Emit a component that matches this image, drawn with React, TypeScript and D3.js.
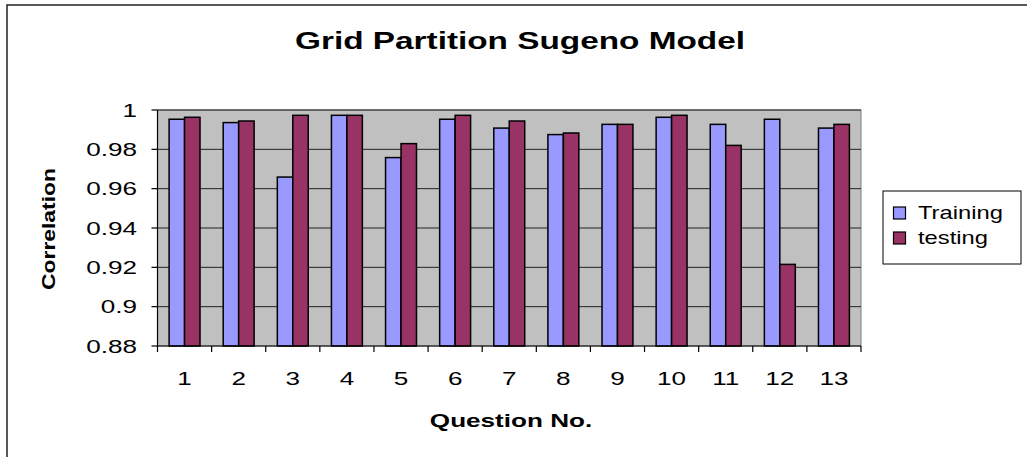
import React from 'react';
import {scaleBand, scaleLinear} from 'd3';

const questions = ['1', '2', '3', '4', '5', '6', '7', '8', '9', '10', '11', '12', '13'];
const training = [0.9953, 0.9936, 0.9659, 0.9973, 0.9758, 0.9953, 0.9908, 0.9875, 0.9927, 0.9963, 0.9927, 0.9953, 0.9908];
const testing = [0.9963, 0.9944, 0.9973, 0.9973, 0.9829, 0.9973, 0.9944, 0.9883, 0.9927, 0.9973, 0.9820, 0.9215, 0.9927];
const yTicks = [0.88, 0.9, 0.92, 0.94, 0.96, 0.98, 1];
const seriesNames = ['Training', 'testing'];
const seriesColors = ['#9999FF', '#993366'];

const FONT = 'Arial, "Liberation Sans", sans-serif';
const SX = 1.45;

const plot = {left: 157.5, right: 861, top: 110, bottom: 346};

// stretched text, the picture is wider than the original chart
const SText = ({x, y, size, sx = SX, bold = false, anchor = 'middle', rotate = 0, children}: any) => (
    <g transform={`translate(${x},${y}) rotate(${rotate}) scale(${sx},1)`}>
        <text fontFamily={FONT} fontSize={size} fontWeight={bold ? 'bold' : 'normal'} textAnchor={anchor}>{children}</text>
    </g>
);

const App = () => {
    const x = scaleBand<string>().domain(questions).range([plot.left, plot.right]);
    const y = scaleLinear().domain([0.88, 1]).range([plot.bottom, plot.top]);
    const band = x.bandwidth();
    const bw = band / 3.5;

    return (
        <svg width={1027} height={457} style={{position: 'absolute', left: 0, top: 0, background: '#fff'}}>
            {/* outer chart frame, cut by the picture on right and bottom */}
            <rect x={7} y={5} width={1040} height={470} fill="#fff" stroke="#222" strokeWidth={1.5}/>

            <SText x={520} y={49} size={23} bold>Grid Partition Sugeno Model</SText>

            {/* plot area */}
            <rect x={plot.left} y={plot.top} width={plot.right - plot.left} height={plot.bottom - plot.top}
                  fill="#C0C0C0" stroke="#808080" strokeWidth={1}/>
            {yTicks.slice(1).map((t, i) => (
                <line key={i} x1={plot.left} x2={plot.right} y1={y(t)} y2={y(t)} stroke="#222" strokeWidth={1}/>
            ))}

            {questions.map((q, i) => {
                const x0 = x(q)!;
                return <g key={q}>
                    {[training[i], testing[i]].map((v, s) => (
                        <rect key={s} x={x0 + 0.75 * bw + s * bw} y={y(v)} width={bw} height={plot.bottom - y(v)}
                              fill={seriesColors[s]} stroke="#000" strokeWidth={1.5}/>
                    ))}
                </g>;
            })}

            {/* axes */}
            <g stroke="#000" strokeWidth={1.2}>
                <line x1={plot.left} x2={plot.left} y1={plot.top} y2={plot.bottom}/>
                <line x1={plot.left} x2={plot.right} y1={plot.bottom} y2={plot.bottom}/>
                {yTicks.map((t, i) => <line key={i} x1={plot.left - 6} x2={plot.left} y1={y(t)} y2={y(t)}/>)}
                {questions.map(q => <line key={q} x1={x(q)! + band} x2={x(q)! + band} y1={plot.bottom} y2={plot.bottom + 6}/>)}
                <line x1={plot.left} x2={plot.left} y1={plot.bottom} y2={plot.bottom + 6}/>
            </g>
            {yTicks.map((t, i) => (
                <SText key={i} x={137} y={y(t) + 6.5} size={18} anchor="end">{String(t)}</SText>
            ))}
            {questions.map(q => (
                <SText key={q} x={x(q)! + band / 2} y={385} size={18}>{q}</SText>
            ))}

            <SText x={511} y={427} size={18} bold>Question No.</SText>
            <SText x={55} y={229} size={18} bold rotate={-90} sx={1.27}>Correlation</SText>

            {/* legend */}
            <rect x={883} y={191} width={138} height={73} fill="#fff" stroke="#000" strokeWidth={1}/>
            {seriesNames.map((n, i) => (
                <g key={n}>
                    <rect x={893.5} y={207 + i * 25} width={12} height={12} fill={seriesColors[i]} stroke="#000" strokeWidth={1.2}/>
                    <SText x={918} y={218.5 + i * 25} size={19} sx={1.25} anchor="start">{n}</SText>
                </g>
            ))}
        </svg>
    );
};

export default App;
